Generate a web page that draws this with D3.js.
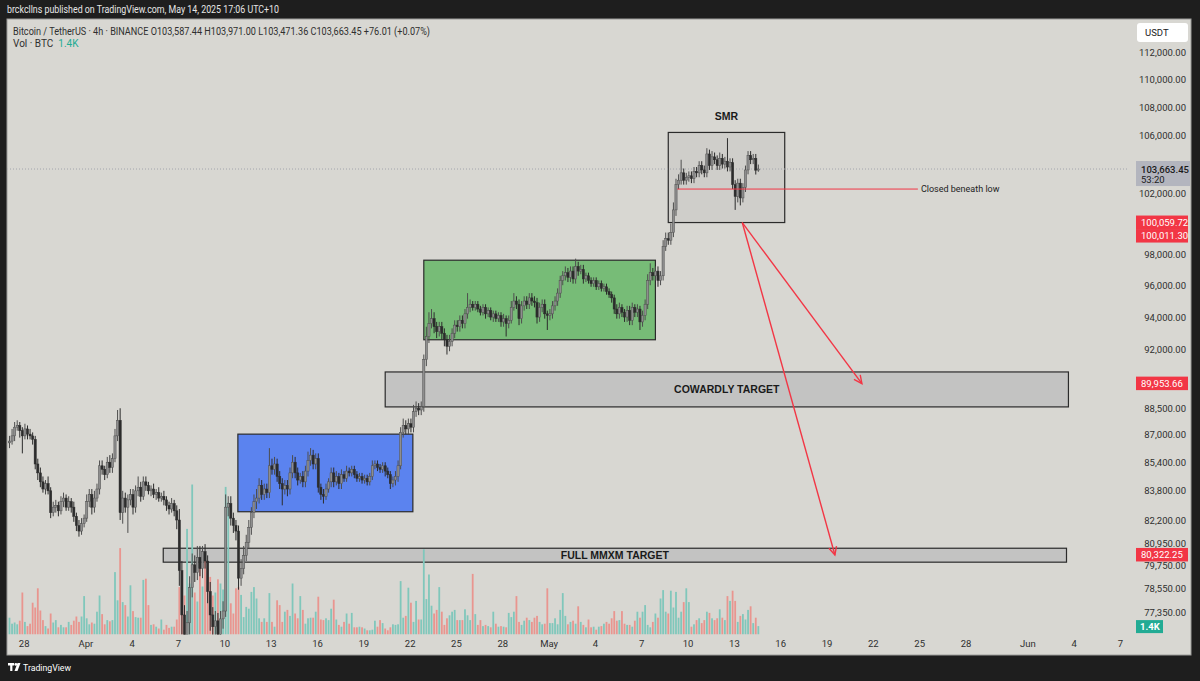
<!DOCTYPE html>
<html>
<head>
<meta charset="utf-8">
<script src="https://cdn.jsdelivr.net/npm/d3@7"></script>
<style>
html, body { margin: 0; padding: 0; background: #1e1e1e; }
svg { display: block; font-family: Roboto, 'Liberation Sans', sans-serif; }
</style>
</head>
<body>
<div id="chart"></div>
<script>
// BTCUSDT 4h candles, prices in thousands, one row per day (02,06,10,14,18,22 UTC+10)
const firstOpen = 86.5
const closes = [
	86.6, 86.9, 87.4, 87.5, 87.2, 86.9,   // Mar 27
	87.3, 87.0, 86.9, 86.7, 85.3, 84.8,   // Mar 28
	84.3, 83.9, 84.2, 83.8, 82.6, 82.9,   // Mar 29
	83.0, 82.7, 83.2, 83.4, 82.9, 83.2,   // Mar 30
	82.9, 82.4, 81.9, 81.6, 82.0, 82.3,   // Mar 31
	83.2, 83.6, 82.9, 83.4, 83.9, 85.2,   // Apr 1
	85.0, 84.7, 85.4, 85.1, 85.6, 86.9,   // Apr 2
	87.8, 82.6, 83.4, 82.9, 83.3, 83.6,   // Apr 3
	82.9, 83.8, 84.0, 83.5, 84.3, 84.1,   // Apr 4
	83.8, 83.9, 83.6, 83.7, 83.4, 83.5,   // Apr 5
	83.3, 83.0, 82.8, 83.1, 82.7, 82.2,   // Apr 6
	79.5, 77.2, 75.5, 76.8, 78.6, 79.8,   // Apr 7
	79.4, 80.2, 79.6, 80.5, 80.0, 78.4,   // Apr 8
	77.2, 76.6, 76.9, 76.2, 77.0, 77.4,   // Apr 9
	82.9, 83.1, 82.3, 81.9, 81.6, 79.1,   // Apr 10
	79.6, 80.3, 81.0, 81.8, 82.6, 83.2,   // Apr 11
	83.4, 84.1, 83.6, 83.9, 83.7, 85.2,   // Apr 12
	85.0, 85.3, 84.6, 84.2, 83.9, 84.1,   // Apr 13
	83.9, 84.8, 85.4, 84.8, 84.4, 84.6,   // Apr 14
	84.3, 84.9, 85.5, 85.8, 85.3, 85.6,   // Apr 15
	84.0, 83.6, 83.5, 83.9, 84.3, 84.8,   // Apr 16
	84.3, 84.6, 84.2, 84.7, 84.5, 84.9,   // Apr 17
	84.8, 85.0, 84.7, 84.5, 84.6, 84.4,   // Apr 18
	84.5, 84.3, 84.6, 85.2, 85.3, 85.1,   // Apr 19
	85.0, 85.2, 84.9, 84.7, 84.2, 84.4,   // Apr 20
	84.6, 85.2, 87.1, 87.5, 87.3, 87.6,   // Apr 21
	87.4, 88.3, 88.5, 88.4, 88.6, 91.4,   // Apr 22
	92.8, 93.6, 93.9, 93.4, 93.1, 93.4,   // Apr 23
	93.0, 92.6, 92.2, 92.5, 93.0, 93.5,   // Apr 24
	93.4, 93.8, 93.6, 94.2, 94.6, 94.8,   // Apr 25
	94.6, 94.8, 94.5, 94.3, 94.6, 94.2,   // Apr 26
	94.4, 94.0, 94.2, 93.9, 94.1, 93.7,   // Apr 27
	93.9, 93.6, 93.8, 94.6, 95.0, 94.8,   // Apr 28
	93.9, 94.7, 95.0, 94.8, 95.2, 95.0,   // Apr 29
	94.9, 94.0, 94.6, 94.8, 94.2, 94.1,   // Apr 30
	94.2, 94.7, 95.0, 95.5, 96.3, 96.6,   // May 1
	96.8, 96.5, 96.9, 96.4, 97.2, 96.9,   // May 2
	97.0, 96.4, 96.6, 96.3, 96.1, 96.3,   // May 3
	95.9, 96.1, 95.8, 95.9, 95.6, 95.4,   // May 4
	95.2, 94.5, 94.2, 94.6, 94.3, 94.0,   // May 5
	94.4, 93.8, 94.6, 94.3, 94.5, 93.7,   // May 6
	94.1, 94.8, 96.3, 96.8, 96.6, 96.9,   // May 7
	96.3, 96.6, 98.5, 99.0, 98.9, 99.4,   // May 8
	100.9, 102.6, 102.9, 103.4, 102.9, 103.1, // May 9
	103.2, 103.0, 103.5, 103.4, 103.9, 103.6, // May 10
	103.4, 104.7, 103.9, 104.5, 104.3, 103.9, // May 11
	104.4, 104.0, 104.2, 103.8, 104.1, 102.6, // May 12
	101.8, 102.7, 101.7, 102.4, 103.6, 104.6, // May 13
	104.3, 104.4, 103.58744, 103.66345        // May 14
]
// wick length above / below the body, thousands
const wickUp = [
	0.3,0.4,0.3,0.3,0.2,0.2, 0.3,0.2,0.3,0.2,0.2,0.3, 0.3,0.3,0.2,0.4,0.2,0.3, 0.3,0.2,0.3,0.3,0.2,0.3,
	0.2,0.3,0.2,0.3,0.3,0.2, 0.4,0.3,0.3,0.4,0.3,0.3, 0.3,0.2,0.3,0.4,0.3,0.4, 0.6,0.7,0.4,0.3,0.3,0.3,
	0.3,0.3,0.6,0.3,0.3,0.3, 0.2,0.2,0.3,0.2,0.3,0.2, 0.3,0.2,0.2,0.3,0.2,0.3, 0.6,0.5,0.5,0.6,0.6,0.6,
	0.5,0.6,0.6,0.3,0.4,0.3, 0.5,0.4,0.5,0.4,0.4,0.5, 0.7,0.4,0.4,0.3,0.3,0.3, 0.5,0.5,0.4,0.4,0.3,0.4,
	0.5,0.4,0.3,0.3,0.3,1.0, 0.4,0.4,0.3,0.3,0.3,0.3, 0.3,0.3,0.4,0.3,0.3,0.2, 0.3,0.3,0.5,0.4,0.3,0.3,
	0.3,0.2,0.3,0.3,0.2,0.3, 0.3,0.3,0.2,0.3,0.2,0.3, 0.2,0.2,0.2,0.2,0.2,0.2, 0.2,0.2,0.2,0.3,0.2,0.2,
	0.2,0.2,0.2,0.2,0.2,0.2, 0.3,0.3,0.3,0.4,0.3,0.3, 0.3,0.4,0.4,0.3,0.3,0.3, 0.6,0.7,0.6,0.4,0.3,0.3,
	0.3,0.3,0.3,0.4,0.3,0.3, 0.3,0.3,0.3,0.3,0.9,0.3, 0.2,0.2,0.2,0.2,0.2,0.2, 0.2,0.2,0.2,0.2,0.2,0.2,
	0.3,0.2,0.3,0.4,0.5,0.3, 0.3,0.3,0.3,0.3,0.3,0.3, 0.3,0.3,0.3,0.3,0.3,0.2, 0.3,0.3,0.3,0.3,0.3,0.3,
	0.4,0.3,0.3,0.3,0.5,0.3, 0.3,0.3,0.2,0.2,0.2,0.2, 0.2,0.2,0.2,0.2,0.2,0.2, 0.2,0.2,0.3,0.3,0.2,0.2,
	0.3,0.3,0.3,0.2,0.3,0.2, 0.3,0.3,0.4,0.6,0.3,0.3, 0.3,0.3,0.4,0.4,0.4,0.6, 0.5,0.4,0.4,0.9,0.3,0.3,
	0.3,0.3,0.3,0.3,0.3,0.3, 0.3,0.4,0.3,0.4,0.3,0.3, 0.4,0.3,0.3,1.6,0.3,0.3, 0.3,0.3,0.3,0.3,0.3,0.3,
	0.3,0.3,0.3,0.30755
]
const wickDn = [
	0.3,0.2,0.3,0.2,0.4,1.0, 0.2,0.3,0.2,0.3,0.3,0.4, 0.3,0.2,0.3,0.2,0.3,0.2, 0.3,0.3,0.2,0.3,0.2,0.2,
	0.3,0.3,0.3,0.3,0.2,0.2, 0.2,0.3,0.4,0.3,0.2,0.3, 0.3,0.3,0.2,0.3,0.3,0.2, 0.3,0.4,0.6,0.3,1.4,0.3,
	0.4,0.3,0.3,0.3,0.2,0.3, 0.2,0.3,0.2,0.3,0.2,0.2, 0.3,0.3,0.3,0.2,0.3,0.5, 0.8,1.0,1.0,0.8,0.6,0.5,
	0.5,0.4,0.4,0.5,0.4,0.6, 0.8,1.2,0.8,1.6,0.6,0.5, 0.3,0.5,0.4,0.4,0.5,0.6, 0.4,0.3,0.3,0.3,0.4,0.3,
	0.4,0.3,0.3,0.3,0.3,0.3, 0.3,0.3,0.3,0.3,0.9,0.3, 0.4,0.3,0.3,0.3,0.3,0.2, 0.3,0.3,0.3,0.3,0.3,0.3,
	0.3,0.3,0.4,0.2,0.2,0.3, 0.3,0.2,0.3,0.3,0.2,0.2, 0.2,0.2,0.2,0.2,0.2,0.2, 0.2,0.2,0.2,0.2,0.2,0.2,
	0.2,0.2,0.3,0.2,0.3,0.2, 0.3,0.3,0.2,0.3,0.3,0.3, 0.3,0.3,0.3,0.3,0.3,0.3, 0.4,0.4,0.3,0.4,0.4,0.3,
	0.4,0.4,0.5,0.3,0.3,0.3, 0.3,0.3,0.3,0.3,0.3,0.3, 0.2,0.2,0.2,0.2,0.2,0.3, 0.2,0.2,0.3,0.2,0.2,0.3,
	0.3,0.8,0.3,0.2,0.2,0.3, 0.4,0.3,0.3,0.3,0.3,0.3, 0.3,0.4,0.3,0.3,0.3,0.9, 0.3,0.3,0.3,0.3,0.3,0.3,
	0.3,0.3,0.3,0.3,0.3,0.3, 0.2,0.3,0.2,0.2,0.2,0.2, 0.2,0.2,0.2,0.2,0.2,0.2, 0.3,0.3,0.3,0.3,0.3,0.3,
	0.3,0.3,0.3,0.3,0.3,0.5, 0.3,0.3,0.3,0.3,0.3,0.3, 0.4,0.3,0.3,0.3,0.3,0.3, 0.3,0.4,0.3,0.3,0.3,0.3,
	0.3,0.3,0.3,0.3,0.3,0.3, 0.3,0.3,0.3,0.3,0.3,0.3, 0.3,0.3,0.3,0.3,0.3,0.3, 0.9,0.4,0.5,0.3,0.3,0.3,
	0.3,0.3,0.3,0.11608
]
// volume, thousand BTC
const volumes = [
	2.8,1.8,2.0,1.7,2.3,7.0,   2.1,1.4,1.8,5.3,4.5,7.7,   4.0,2.4,1.4,1.0,3.5,2.0,   2.4,1.2,1.6,1.2,1.2,2.1,
	1.6,2.3,3.0,2.1,3.0,6.4,   2.7,1.7,2.0,1.8,3.8,6.5,   3.4,1.7,2.4,2.2,2.4,10.4,  5.7,14.4,5.4,4.9,3.0,8.2,
	3.9,2.9,2.8,2.8,9.1,9.3,   4.9,1.6,1.7,1.3,1.0,2.5,   0.8,1.6,1.1,1.3,1.3,2.5,   7.9,9.6,6.5,17.6,8.5,25.0,
	7.0,5.5,12.0,8.0,13.5,11.0, 9.6,6.5,7.0,9.2,8.5,7.5, 24.6,22.0,5.2,3.5,7.7,7.9, 6.6,2.9,4.6,4.3,7.1,7.9,
	6.0,2.7,2.1,2.7,2.1,6.9,   2.1,1.3,5.7,4.9,2.1,3.8,   4.1,3.1,8.5,3.5,2.7,6.4,   4.1,1.8,2.7,2.8,2.8,3.8,
	6.3,2.5,2.4,2.7,2.4,4.3,   5.8,2.5,1.6,1.3,2.1,3.5,   1.8,3.6,1.2,1.2,1.3,1.2,   1.0,0.7,0.7,0.8,2.3,1.3,
	2.4,1.9,1.0,0.7,1.2,1.7,   1.6,1.7,8.9,2.8,3.1,7.8,   5.3,2.1,5.6,2.5,2.5,14.2,  5.9,10.0,4.8,3.5,4.1,7.9,
	3.8,1.6,2.7,3.2,3.8,4.1,   2.4,2.4,2.4,4.2,3.2,2.4,   10.1,3.4,1.6,2.4,1.4,1.6,  1.4,1.2,3.8,1.8,1.3,1.4,
	1.3,1.2,3.6,2.9,3.8,6.4,   2.1,1.6,2.3,2.8,2.4,2.1,   2.8,3.1,2.1,1.7,1.8,7.7,   1.9,1.9,2.7,1.7,4.1,6.9,
	3.1,1.7,2.1,2.3,1.8,4.7,   2.1,1.6,1.2,2.5,1.2,1.3,   0.8,1.3,1.4,1.8,2.1,1.8,   2.7,3.9,2.3,2.4,3.9,1.8,
	1.6,1.6,1.3,2.3,3.8,2.8,   3.8,4.9,1.6,1.2,2.1,3.5,   2.8,6.0,7.4,3.8,3.5,7.3,   4.5,7.1,2.8,3.8,5.4,7.7,
	5.4,1.3,1.7,2.4,2.7,1.9,   2.4,3.8,3.6,2.7,2.4,2.7,   4.2,2.8,2.4,6.4,5.6,7.3,   5.6,2.1,3.1,3.4,2.5,4.1,
	4.7,1.9,2.8,1.4
]

// axis ticks (100,000 and 90,000 sit under the price tags, so they are left out)
const yTicks = [112, 110, 108, 106, 104, 102, 98, 96, 94, 92, 88.5, 87, 85.4, 83.8, 82.2, 80.95, 79.75, 78.55, 77.35]
const xTickDays = ['2025-03-28', '2025-04-01', '2025-04-04', '2025-04-07', '2025-04-10', '2025-04-13', '2025-04-16',
	'2025-04-19', '2025-04-22', '2025-04-25', '2025-04-28', '2025-05-01', '2025-05-04', '2025-05-07', '2025-05-10',
	'2025-05-13', '2025-05-16', '2025-05-19', '2025-05-22', '2025-05-25', '2025-05-28', '2025-06-01', '2025-06-04', '2025-06-07']
const monthNames = ['Jan', 'Feb', 'Mar', 'Apr', 'May', 'Jun', 'Jul', 'Aug', 'Sep', 'Oct', 'Nov', 'Dec']

// drawings (time, price in thousands)
const boxNames = ['range1', 'range2', 'smr', 'cowardly', 'mmxm']
const boxStart = ['2025-04-10T21:00', '2025-04-22T22:00', '2025-05-08T18:00', '2025-04-20T10:00', '2025-04-06T01:00']
const boxEnd = ['2025-04-22T05:00', '2025-05-07T22:00', '2025-05-16T07:00', '2025-06-03T16:00', '2025-06-03T13:00']
const boxTop = [87.0, 97.6, 106.2, 90.65, 80.68]
const boxBottom = [82.65, 92.6, 100.06, 88.58, 79.94]
const boxLabels = ['', '', '', 'COWARDLY TARGET', 'FULL MMXM TARGET']

const lowLine = { start: '2025-05-09T08:00', end: '2025-05-24T22:00', price: 102.3, label: 'Closed beneath low' }
const arrowStart = { time: '2025-05-13T13:00', price: 100.06 }
const arrowEnds = [
	{ time: '2025-05-21T07:00', price: 89.95366 },
	{ time: '2025-05-19T13:00', price: 80.32225 }
]
const priceTags = [100.05972, 100.0113, 89.95366, 80.32225]

// sizing
const W = 1200, H = 681
const PANEL = { L: 7, T: 19, R: 1191, B: 655 }
const PLOT_R = 1128
const VOL_BASE = 634.5
const BG = '#d8d7d2'
const UP = '#8e8e8e', UP_EDGE = '#4e4e4e', DOWN = '#2c2c2c'
const RED = '#f23645', TEAL = '#22ab94'

const t = s => new Date(s + ':00Z')
const HOUR = 3600e3
const START = Date.UTC(2025, 2, 27, 2)

const candles = closes.map((c, i) => {
	const o = i === 0 ? firstOpen : closes[i - 1]
	return {
		time: new Date(START + i * 4 * HOUR),
		o: o, c: c,
		h: Math.max(o, c) + wickUp[i],
		l: Math.min(o, c) - wickDn[i],
		v: volumes[i]
	}
})

// scales
const x = d3.scaleUtc()
	.domain([Date.UTC(2025, 2, 27), Date.UTC(2025, 5, 7)])
	.range([8.2, 1119.9])

const y = d3.scaleLog()
	.domain([112, 77.35])
	.range([52, 612])

const yVol = d3.scaleLinear()
	.domain([0, 25])
	.range([VOL_BASE, VOL_BASE - 150])

const svg = d3.select('#chart').append('svg')
	.attr('width', W)
	.attr('height', H)

svg.append('rect').attr('width', W).attr('height', H).attr('fill', '#1e1e1e')
svg.append('rect')
	.attr('x', PANEL.L).attr('y', PANEL.T)
	.attr('width', PANEL.R - PANEL.L).attr('height', PANEL.B - PANEL.T)
	.attr('fill', BG)
	.attr('stroke', '#9c9c9a')
	.attr('stroke-width', 1)

svg.append('clipPath').attr('id', 'plot-clip')
	.append('rect')
	.attr('x', PANEL.L + 0.5).attr('y', PANEL.T)
	.attr('width', PLOT_R - PANEL.L).attr('height', VOL_BASE - PANEL.T)

const plot = svg.append('g').attr('clip-path', 'url(#plot-clip)')

// boxes
const boxFill = { range1: '#5b83ef', range2: '#77bc77', smr: '#cfceca', cowardly: '#c3c3c2', mmxm: '#c3c3c2' }
boxNames.forEach((name, i) => {
	plot.append('rect')
		.attr('x', x(t(boxStart[i])))
		.attr('y', y(boxTop[i]))
		.attr('width', x(t(boxEnd[i])) - x(t(boxStart[i])))
		.attr('height', y(boxBottom[i]) - y(boxTop[i]))
		.attr('fill', boxFill[name])
		.attr('stroke', '#2b2b2b')
		.attr('stroke-width', 1.2)
})

// current price dotted line
plot.append('line')
	.attr('x1', PANEL.L).attr('x2', PLOT_R)
	.attr('y1', y(closes[closes.length - 1])).attr('y2', y(closes[closes.length - 1]))
	.attr('stroke', '#a3a5ad')
	.attr('stroke-dasharray', '1,2')

// volume
plot.selectAll('.vol')
	.data(candles)
	.enter().append('rect')
	.attr('class', 'vol')
	.attr('x', d => x(d.time) - 0.9)
	.attr('width', 1.8)
	.attr('y', d => yVol(d.v))
	.attr('height', d => VOL_BASE - yVol(d.v))
	.attr('fill', d => d.c >= d.o ? '#80c7bb' : '#e9958f')

// candles
plot.selectAll('.wick')
	.data(candles)
	.enter().append('line')
	.attr('class', 'wick')
	.attr('x1', d => x(d.time)).attr('x2', d => x(d.time))
	.attr('y1', d => y(d.h)).attr('y2', d => y(d.l))
	.attr('stroke', d => d.c >= d.o ? UP_EDGE : DOWN)
	.attr('stroke-width', 1)

plot.selectAll('.body')
	.data(candles)
	.enter().append('rect')
	.attr('class', 'body')
	.attr('x', d => x(d.time) - 1.1)
	.attr('width', 2.2)
	.attr('y', d => y(Math.max(d.o, d.c)))
	.attr('height', d => Math.max(1, Math.abs(y(d.o) - y(d.c))))
	.attr('fill', d => d.c >= d.o ? UP : DOWN)
	.attr('stroke', d => d.c >= d.o ? UP_EDGE : DOWN)
	.attr('stroke-width', 0.5)

// box labels
boxNames.forEach((name, i) => {
	if (!boxLabels[i]) return
	plot.append('text')
		.attr('x', (x(t(boxStart[i])) + x(t(boxEnd[i]))) / 2)
		.attr('y', (y(boxTop[i]) + y(boxBottom[i])) / 2)
		.attr('dy', '0.36em')
		.attr('text-anchor', 'middle')
		.attr('font-family', "'Liberation Sans', Arial, sans-serif")
		.attr('font-weight', 'bold')
		.attr('font-size', '10.5px')
		.attr('fill', '#1a1a1a')
		.text(boxLabels[i])
})

// SMR title above its box
plot.append('text')
	.attr('x', (x(t(boxStart[2])) + x(t(boxEnd[2]))) / 2)
	.attr('y', y(boxTop[2]) - 12)
	.attr('text-anchor', 'middle')
	.attr('font-family', "'Liberation Sans', Arial, sans-serif")
	.attr('font-weight', 'bold')
	.attr('font-size', '10.5px')
	.attr('fill', '#1a1a1a')
	.text('SMR')

// closed beneath low
plot.append('line')
	.attr('x1', x(t(lowLine.start))).attr('x2', x(t(lowLine.end)))
	.attr('y1', y(lowLine.price)).attr('y2', y(lowLine.price))
	.attr('stroke', RED).attr('stroke-width', 1)
plot.append('text')
	.attr('x', x(t(lowLine.end)) + 3)
	.attr('y', y(lowLine.price))
	.attr('dy', '0.35em')
	.attr('font-size', '9px')
	.attr('fill', '#222')
	.text(lowLine.label)

// arrows
const ax0 = x(t(arrowStart.time)), ay0 = y(arrowStart.price)
arrowEnds.forEach(e => {
	const ax1 = x(t(e.time)), ay1 = y(e.price)
	plot.append('line')
		.attr('x1', ax0).attr('y1', ay0).attr('x2', ax1).attr('y2', ay1)
		.attr('stroke', RED).attr('stroke-width', 1.4)
	const ang = Math.atan2(ay1 - ay0, ax1 - ax0)
	const len = 9, spread = 0.45
	const head = [
		[ax1 - len * Math.cos(ang - spread), ay1 - len * Math.sin(ang - spread)],
		[ax1, ay1],
		[ax1 - len * Math.cos(ang + spread), ay1 - len * Math.sin(ang + spread)]
	]
	plot.append('path')
		.attr('d', d3.line()(head))
		.attr('fill', 'none')
		.attr('stroke', RED).attr('stroke-width', 1.4)
})

// price axis
const yAxisCall = d3.axisRight(y)
	.tickValues(yTicks)
	.tickSize(0)
	.tickPadding(0)
	.tickFormat(d => d3.format(',.2f')(d * 1000))
svg.append('g')
	.attr('transform', 'translate(1186,0)')
	.call(yAxisCall)
	.call(g => g.select('.domain').remove())
	.call(g => g.selectAll('text')
		.attr('text-anchor', 'end')
		.attr('font-family', 'Roboto, sans-serif')
		.attr('font-size', '9.5px')
		.attr('fill', '#2f2f2f'))

// USDT badge
svg.append('rect')
	.attr('x', 1137).attr('y', 23).attr('width', 51).attr('height', 19)
	.attr('rx', 3).attr('fill', '#ffffff')
svg.append('text')
	.attr('x', 1145).attr('y', 36)
	.attr('font-size', '9.5px').attr('fill', '#222')
	.text('USDT')

// current price tag
const lastClose = closes[closes.length - 1]
const lastY = y(lastClose)
svg.append('rect')
	.attr('x', 1136).attr('y', lastY - 8).attr('width', 54).attr('height', 25)
	.attr('fill', '#b3b5be')
svg.append('text')
	.attr('x', 1141).attr('y', lastY + 3.5)
	.attr('font-size', '9.5px').attr('font-weight', 500).attr('fill', '#1a1a1a')
	.text(d3.format(',.2f')(lastClose * 1000))
svg.append('text')
	.attr('x', 1141).attr('y', lastY + 14)
	.attr('font-size', '9.5px').attr('fill', '#1a1a1a')
	.text('53:20')

// red price tags (second one stacks under the first)
let prevBottom = -Infinity
priceTags.forEach(p => {
	let top = y(p) - 7
	if (top < prevBottom) top = prevBottom
	prevBottom = top + 13.5
	svg.append('rect')
		.attr('x', 1136).attr('y', top).attr('width', 52).attr('height', 13.5)
		.attr('fill', RED)
	svg.append('text')
		.attr('x', 1141).attr('y', top + 10)
		.attr('font-size', '9.5px').attr('fill', '#ffffff')
		.text(d3.format(',.2f')(p * 1000))
})

// volume tag
const lastVol = volumes[volumes.length - 1]
svg.append('rect')
	.attr('x', 1136).attr('y', yVol(lastVol) - 6).attr('width', 27).attr('height', 13)
	.attr('fill', TEAL)
svg.append('text')
	.attr('x', 1140).attr('y', yVol(lastVol) + 4)
	.attr('font-size', '9.5px').attr('font-weight', 'bold').attr('fill', '#ffffff')
	.text(lastVol + 'K')

// time axis
const xAxisCall = d3.axisBottom(x)
	.tickValues(xTickDays.map(s => new Date(s + 'T00:00:00Z')))
	.tickSize(0)
	.tickPadding(0)
	.tickFormat(d => d.getUTCDate() === 1 ? monthNames[d.getUTCMonth()] : d.getUTCDate())
svg.append('g')
	.attr('transform', 'translate(0,640)')
	.call(xAxisCall)
	.call(g => g.select('.domain').remove())
	.call(g => g.selectAll('text')
		.attr('font-family', 'Roboto, sans-serif')
		.attr('font-size', '9.5px')
		.attr('fill', '#2f2f2f'))

// header
svg.append('text')
	.attr('x', 7).attr('y', 13)
	.attr('font-size', '10px').attr('fill', '#e6e6e6')
	.attr('textLength', 272).attr('lengthAdjust', 'spacingAndGlyphs')
	.text('brckcllns published on TradingView.com, May 14, 2025 17:06 UTC+10')

svg.append('text')
	.attr('x', 13).attr('y', 34.5)
	.attr('font-size', '10px').attr('fill', '#2f2f2f')
	.attr('textLength', 417).attr('lengthAdjust', 'spacingAndGlyphs')
	.text('Bitcoin / TetherUS · 4h · BINANCE   O103,587.44  H103,971.00  L103,471.36  C103,663.45  +76.01 (+0.07%)')

const volLegend = svg.append('text')
	.attr('x', 13).attr('y', 46.5)
	.attr('font-size', '10px').attr('fill', '#2f2f2f')
volLegend.append('tspan').text('Vol · BTC')
volLegend.append('tspan').attr('dx', 5).attr('fill', TEAL).text(lastVol + 'K')

// footer logo
const logo = svg.append('g').attr('transform', 'translate(8,663)')
logo.append('rect').attr('x', 0).attr('y', 0).attr('width', 6).attr('height', 2.5).attr('fill', '#ffffff')
logo.append('rect').attr('x', 2.2).attr('y', 0).attr('width', 2.2).attr('height', 8).attr('fill', '#ffffff')
logo.append('circle').attr('cx', 7.8).attr('cy', 1.4).attr('r', 1.4).attr('fill', '#ffffff')
logo.append('path').attr('d', 'M9.5,0 L12.5,0 L9.5,8 L6.5,8 Z').attr('fill', '#ffffff')
svg.append('text')
	.attr('x', 23).attr('y', 671)
	.attr('font-size', '9.5px').attr('fill', '#ffffff')
	.attr('textLength', 48).attr('lengthAdjust', 'spacingAndGlyphs')
	.text('TradingView')
</script>
</body>
</html>
